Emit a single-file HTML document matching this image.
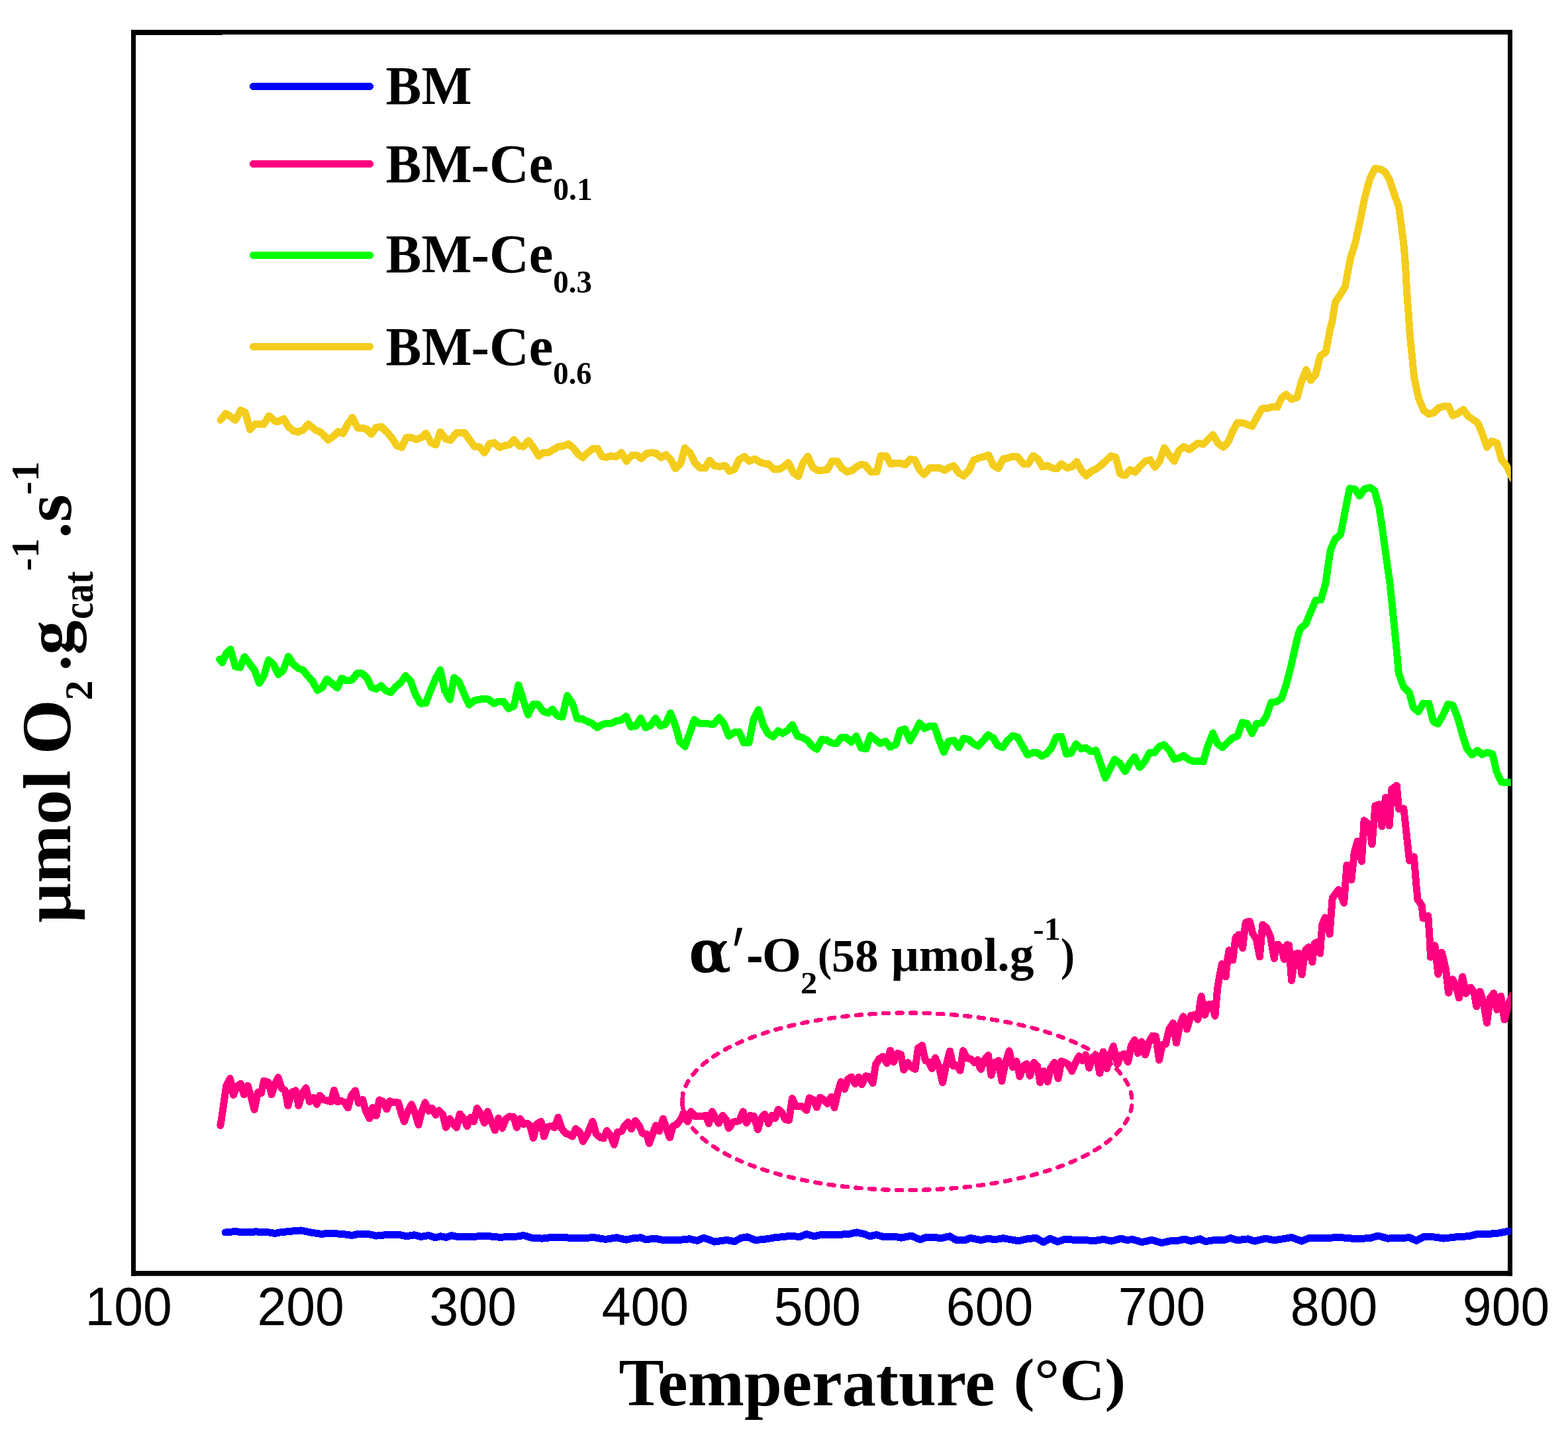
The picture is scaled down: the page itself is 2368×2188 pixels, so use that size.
<!DOCTYPE html>
<html lang="en"><head><meta charset="utf-8"><title>O2-TPD profiles</title>
<style>
html,body{margin:0;padding:0;background:#fff;}
body{width:2368px;height:2188px;overflow:hidden;}
svg{display:block;}
text{white-space:pre;}
.c{fill:none;stroke-linejoin:round;stroke-linecap:round;shape-rendering:crispEdges;}
.k{shape-rendering:crispEdges;}
</style></head><body>
<svg width="2368" height="2188" viewBox="0 0 2368 2188">
<defs><clipPath id="plot"><rect x="201.5" y="48" width="2080" height="1875"/></clipPath></defs>
<rect width="2368" height="2188" fill="#fff"/>

<g fill="#000">
<rect x="198" y="45" width="2086" height="7.2"/>
<rect x="198" y="45" width="138" height="8"/>
<rect x="198" y="1919" width="2086" height="7.7"/>
<rect x="198" y="45" width="7" height="1881.7"/>
<rect x="2277" y="45" width="7" height="1881.7"/>
</g>
<g clip-path="url(#plot)"><g transform="translate(0.5 0.5)">
<path class="c" stroke="#0000ff" stroke-width="11" d="M339.8 1860.4 L354.7 1859.0 L366.2 1860.4 L386.0 1859.4 L405.8 1860.4 L414.1 1862.0 L422.3 1860.4 L435.5 1859.0 L453.7 1857.4 L468.5 1860.4 L485.0 1863.0 L494.9 1861.7 L518.0 1863.0 L531.2 1865.0 L539.5 1863.0 L556.0 1863.0 L567.5 1865.6 L584.0 1864.0 L603.8 1864.3 L613.7 1866.3 L625.3 1864.3 L635.2 1867.0 L646.7 1865.0 L656.6 1868.3 L664.9 1866.3 L673.1 1868.0 L681.4 1865.3 L691.3 1867.0 L716.0 1866.6 L735.8 1866.0 L752.3 1867.6 L775.4 1867.3 L790.3 1865.0 L803.5 1868.9 L818.3 1869.6 L829.9 1868.3 L848.0 1868.3 L874.4 1868.9 L897.5 1868.3 L914.0 1870.9 L930.5 1868.3 L945.4 1871.6 L953.6 1869.6 L966.8 1868.3 L975.1 1871.3 L988.1 1869.6 L999.6 1871.9 L1026.0 1871.9 L1040.9 1870.3 L1052.4 1872.9 L1062.3 1868.6 L1078.8 1874.6 L1097.0 1871.9 L1108.5 1874.2 L1118.4 1868.9 L1128.3 1867.3 L1139.9 1872.2 L1158.0 1870.3 L1171.2 1868.0 L1184.4 1867.0 L1191.0 1865.6 L1207.5 1867.0 L1217.4 1863.0 L1229.0 1866.3 L1240.5 1863.7 L1257.0 1864.3 L1281.8 1863.0 L1293.3 1860.4 L1304.9 1863.0 L1313.1 1866.3 L1323.0 1864.0 L1332.9 1867.0 L1352.7 1867.0 L1361.0 1868.6 L1375.8 1865.6 L1389.0 1871.3 L1398.9 1867.6 L1422.0 1868.9 L1433.6 1866.3 L1443.5 1871.9 L1458.3 1871.6 L1464.9 1868.9 L1481.4 1872.2 L1491.3 1869.6 L1501.2 1871.3 L1514.4 1869.3 L1537.5 1873.2 L1550.7 1870.3 L1563.9 1868.9 L1575.5 1875.2 L1585.4 1869.6 L1596.9 1874.6 L1606.8 1870.9 L1620.0 1871.6 L1653.2 1872.9 L1666.4 1870.9 L1678.0 1873.6 L1692.8 1869.6 L1701.1 1872.2 L1709.3 1870.9 L1724.2 1875.2 L1739.0 1871.9 L1753.9 1876.2 L1768.7 1872.9 L1778.6 1872.9 L1788.5 1870.6 L1798.4 1873.6 L1811.6 1870.3 L1819.9 1874.2 L1831.4 1872.2 L1847.9 1872.2 L1857.8 1868.9 L1867.7 1872.2 L1884.2 1870.3 L1894.1 1873.6 L1910.6 1869.6 L1923.8 1872.2 L1937.0 1870.3 L1950.2 1868.0 L1965.1 1873.6 L1976.6 1868.9 L2003.0 1868.9 L2022.8 1868.0 L2049.2 1870.3 L2069.0 1868.9 L2080.6 1865.6 L2095.4 1869.6 L2128.4 1868.3 L2138.3 1872.9 L2149.9 1867.0 L2168.0 1867.6 L2179.6 1869.6 L2201.0 1867.0 L2217.5 1866.3 L2230.7 1863.0 L2247.2 1863.0 L2263.7 1861.4 L2275.3 1859.0 L2286.8 1859.7"/>
<path class="c" style="shape-rendering:auto" stroke="#0000ff" stroke-width="9.4" d="M339.8 1860.4 L354.7 1859.0 L366.2 1860.4 L386.0 1859.4 L405.8 1860.4 L414.1 1862.0 L422.3 1860.4 L435.5 1859.0 L453.7 1857.4 L468.5 1860.4 L485.0 1863.0 L494.9 1861.7 L518.0 1863.0 L531.2 1865.0 L539.5 1863.0 L556.0 1863.0 L567.5 1865.6 L584.0 1864.0 L603.8 1864.3 L613.7 1866.3 L625.3 1864.3 L635.2 1867.0 L646.7 1865.0 L656.6 1868.3 L664.9 1866.3 L673.1 1868.0 L681.4 1865.3 L691.3 1867.0 L716.0 1866.6 L735.8 1866.0 L752.3 1867.6 L775.4 1867.3 L790.3 1865.0 L803.5 1868.9 L818.3 1869.6 L829.9 1868.3 L848.0 1868.3 L874.4 1868.9 L897.5 1868.3 L914.0 1870.9 L930.5 1868.3 L945.4 1871.6 L953.6 1869.6 L966.8 1868.3 L975.1 1871.3 L988.1 1869.6 L999.6 1871.9 L1026.0 1871.9 L1040.9 1870.3 L1052.4 1872.9 L1062.3 1868.6 L1078.8 1874.6 L1097.0 1871.9 L1108.5 1874.2 L1118.4 1868.9 L1128.3 1867.3 L1139.9 1872.2 L1158.0 1870.3 L1171.2 1868.0 L1184.4 1867.0 L1191.0 1865.6 L1207.5 1867.0 L1217.4 1863.0 L1229.0 1866.3 L1240.5 1863.7 L1257.0 1864.3 L1281.8 1863.0 L1293.3 1860.4 L1304.9 1863.0 L1313.1 1866.3 L1323.0 1864.0 L1332.9 1867.0 L1352.7 1867.0 L1361.0 1868.6 L1375.8 1865.6 L1389.0 1871.3 L1398.9 1867.6 L1422.0 1868.9 L1433.6 1866.3 L1443.5 1871.9 L1458.3 1871.6 L1464.9 1868.9 L1481.4 1872.2 L1491.3 1869.6 L1501.2 1871.3 L1514.4 1869.3 L1537.5 1873.2 L1550.7 1870.3 L1563.9 1868.9 L1575.5 1875.2 L1585.4 1869.6 L1596.9 1874.6 L1606.8 1870.9 L1620.0 1871.6 L1653.2 1872.9 L1666.4 1870.9 L1678.0 1873.6 L1692.8 1869.6 L1701.1 1872.2 L1709.3 1870.9 L1724.2 1875.2 L1739.0 1871.9 L1753.9 1876.2 L1768.7 1872.9 L1778.6 1872.9 L1788.5 1870.6 L1798.4 1873.6 L1811.6 1870.3 L1819.9 1874.2 L1831.4 1872.2 L1847.9 1872.2 L1857.8 1868.9 L1867.7 1872.2 L1884.2 1870.3 L1894.1 1873.6 L1910.6 1869.6 L1923.8 1872.2 L1937.0 1870.3 L1950.2 1868.0 L1965.1 1873.6 L1976.6 1868.9 L2003.0 1868.9 L2022.8 1868.0 L2049.2 1870.3 L2069.0 1868.9 L2080.6 1865.6 L2095.4 1869.6 L2128.4 1868.3 L2138.3 1872.9 L2149.9 1867.0 L2168.0 1867.6 L2179.6 1869.6 L2201.0 1867.0 L2217.5 1866.3 L2230.7 1863.0 L2247.2 1863.0 L2263.7 1861.4 L2275.3 1859.0 L2286.8 1859.7"/>
<path class="c" stroke="#ff0080" stroke-width="11" d="M332.4 1699.0 L336.0 1676.0 L341.0 1640.0 L347.0 1628.0 L352.0 1653.0 L357.0 1640.0 L363.0 1636.0 L368.0 1652.4 L373.6 1639.0 L378.4 1654.0 L383.6 1675.0 L389.0 1649.0 L394.0 1650.4 L398.0 1631.6 L405.0 1634.0 L409.6 1652.4 L415.0 1636.0 L419.6 1626.4 L425.0 1643.0 L430.0 1646.0 L434.4 1669.0 L440.0 1649.0 L446.0 1646.4 L450.4 1669.0 L456.0 1650.0 L461.6 1642.4 L467.0 1663.0 L472.4 1657.0 L478.0 1667.0 L482.4 1653.6 L488.0 1660.0 L494.0 1661.6 L499.6 1663.0 L504.0 1645.6 L509.6 1663.0 L515.0 1662.0 L520.0 1664.0 L525.0 1672.4 L530.0 1654.0 L536.0 1646.4 L541.0 1665.0 L547.0 1659.6 L552.0 1677.0 L557.6 1688.4 L562.4 1672.0 L567.6 1684.4 L572.4 1660.4 L578.0 1663.0 L583.6 1674.4 L588.0 1662.4 L595.0 1664.4 L601.0 1664.4 L606.0 1682.0 L610.0 1693.0 L615.6 1677.0 L621.0 1667.4 L626.4 1680.0 L631.6 1698.0 L637.0 1676.0 L641.6 1664.4 L647.0 1677.0 L652.0 1673.0 L657.6 1683.0 L662.4 1676.4 L668.0 1682.0 L673.0 1702.0 L679.0 1689.0 L684.0 1697.0 L689.0 1702.0 L694.0 1681.6 L700.0 1689.0 L705.0 1700.0 L710.0 1687.0 L715.0 1693.0 L720.0 1673.0 L726.0 1682.0 L731.0 1695.0 L736.0 1678.0 L742.0 1694.0 L747.0 1706.4 L752.4 1688.0 L758.0 1703.0 L763.6 1689.0 L769.0 1685.4 L775.0 1686.0 L780.0 1702.0 L785.0 1689.0 L790.0 1697.0 L795.6 1695.6 L800.0 1699.0 L805.0 1718.0 L810.0 1697.0 L816.4 1693.0 L821.0 1715.6 L826.0 1701.0 L832.0 1700.0 L837.0 1702.0 L842.4 1686.6 L848.0 1704.0 L854.0 1711.0 L859.6 1713.0 L864.0 1715.6 L869.0 1704.0 L875.0 1709.0 L880.0 1723.0 L887.0 1711.0 L894.4 1693.0 L900.0 1712.0 L906.0 1717.0 L911.0 1718.4 L916.0 1707.0 L922.0 1715.0 L927.0 1728.0 L932.0 1709.0 L938.0 1708.0 L943.0 1699.0 L948.0 1694.0 L953.0 1704.4 L959.0 1691.6 L965.0 1700.0 L970.0 1711.0 L976.0 1712.0 L980.0 1726.0 L985.0 1712.0 L990.0 1699.0 L995.0 1707.6 L1001.0 1688.6 L1006.0 1704.0 L1011.0 1717.4 L1016.0 1700.0 L1022.0 1697.0 L1028.0 1689.0 L1032.0 1680.0 L1038.0 1693.0 L1043.0 1678.0 L1049.0 1685.0 L1060.0 1685.0 L1065.0 1683.6 L1070.0 1696.0 L1075.0 1678.0 L1080.0 1688.0 L1085.0 1695.6 L1091.0 1684.0 L1096.0 1690.0 L1100.0 1703.0 L1101.0 1702.4 L1106.0 1694.0 L1111.0 1693.0 L1116.0 1692.0 L1121.6 1678.0 L1127.0 1695.0 L1132.4 1684.0 L1138.0 1685.0 L1144.0 1705.0 L1149.0 1688.0 L1154.4 1682.0 L1160.0 1696.0 L1165.0 1684.0 L1170.0 1688.0 L1175.0 1674.6 L1180.0 1679.0 L1185.6 1690.0 L1191.0 1691.0 L1196.0 1658.0 L1201.0 1670.0 L1212.0 1670.4 L1217.6 1676.0 L1221.6 1657.4 L1227.6 1660.0 L1233.0 1671.6 L1238.0 1656.6 L1243.6 1660.0 L1249.0 1666.0 L1255.0 1655.6 L1259.6 1672.0 L1265.0 1648.0 L1269.6 1633.0 L1275.0 1644.0 L1280.0 1629.0 L1285.6 1625.6 L1291.0 1636.0 L1296.4 1626.0 L1301.0 1637.0 L1307.0 1624.4 L1312.0 1625.0 L1317.6 1635.0 L1322.0 1607.0 L1327.6 1598.0 L1333.0 1595.0 L1339.0 1605.0 L1344.0 1585.6 L1349.0 1603.0 L1355.0 1590.0 L1360.0 1591.6 L1364.4 1615.0 L1370.4 1604.0 L1376.0 1611.0 L1381.6 1614.0 L1386.0 1582.0 L1392.0 1578.0 L1397.0 1601.0 L1402.0 1603.0 L1407.0 1613.0 L1412.0 1597.0 L1417.6 1610.0 L1423.0 1634.0 L1428.4 1608.0 L1434.0 1586.6 L1439.0 1609.0 L1444.0 1608.0 L1449.6 1616.0 L1454.0 1586.0 L1460.0 1597.0 L1466.0 1599.0 L1471.0 1604.0 L1476.0 1600.0 L1480.0 1613.0 L1481.0 1614.0 L1486.0 1600.0 L1492.0 1593.0 L1496.4 1623.0 L1502.0 1604.0 L1507.6 1601.0 L1512.4 1632.0 L1518.0 1604.0 L1523.6 1586.4 L1529.0 1611.0 L1534.4 1602.0 L1539.6 1625.0 L1545.0 1609.0 L1550.0 1606.0 L1555.0 1624.0 L1561.0 1604.0 L1566.0 1609.0 L1570.4 1634.0 L1576.0 1617.0 L1581.6 1633.0 L1586.4 1612.0 L1592.0 1604.0 L1597.6 1628.0 L1602.4 1602.0 L1608.0 1604.0 L1613.0 1607.0 L1618.4 1617.0 L1624.0 1604.0 L1629.0 1594.4 L1634.0 1601.0 L1639.0 1592.4 L1644.4 1612.0 L1650.0 1595.6 L1655.0 1594.0 L1660.4 1620.0 L1665.6 1587.6 L1671.0 1613.0 L1676.0 1593.0 L1681.0 1579.4 L1687.0 1606.4 L1692.0 1593.0 L1697.0 1591.0 L1703.0 1603.0 L1708.0 1578.0 L1713.0 1570.0 L1718.0 1590.0 L1723.6 1572.4 L1729.0 1592.4 L1734.4 1574.0 L1740.0 1563.6 L1745.0 1564.4 L1750.0 1600.0 L1755.0 1577.0 L1760.0 1576.0 L1765.0 1554.0 L1771.0 1544.4 L1776.0 1574.4 L1781.6 1547.0 L1786.4 1534.4 L1792.0 1553.6 L1798.0 1533.0 L1804.0 1532.0 L1808.4 1539.0 L1813.6 1504.0 L1819.0 1532.0 L1824.0 1516.4 L1829.6 1516.0 L1834.4 1533.6 L1838.1 1492.5 L1841.9 1470.0 L1845.0 1455.0 L1850.6 1474.4 L1853.1 1450.0 L1855.6 1434.4 L1861.2 1449.4 L1863.8 1428.8 L1865.6 1415.0 L1870.6 1410.6 L1876.2 1431.2 L1880.0 1396.2 L1881.2 1391.9 L1886.9 1390.6 L1891.2 1408.8 L1896.9 1417.5 L1901.9 1444.4 L1906.2 1395.6 L1911.9 1400.0 L1918.1 1413.8 L1923.8 1446.9 L1926.9 1426.2 L1930.0 1425.6 L1935.0 1432.5 L1938.8 1448.1 L1943.1 1426.2 L1946.2 1426.9 L1950.0 1480.0 L1955.6 1440.0 L1960.6 1438.8 L1965.6 1471.2 L1970.6 1435.0 L1976.2 1429.4 L1981.2 1452.5 L1985.0 1423.8 L1988.8 1421.9 L1993.1 1439.4 L1996.2 1396.2 L2000.6 1385.0 L2007.5 1410.0 L2011.7 1355.4 L2021.1 1343.0 L2029.2 1362.9 L2033.5 1305.6 L2040.4 1328.0 L2044.7 1287.0 L2049.7 1269.6 L2055.9 1300.0 L2059.6 1238.4 L2067.1 1244.7 L2071.5 1274.5 L2076.4 1216.0 L2082.0 1214.2 L2086.4 1247.2 L2092.0 1203.6 L2097.6 1246.5 L2101.3 1191.2 L2108.8 1185.6 L2111.9 1221.0 L2119.4 1220.4 L2128.1 1299.4 L2134.9 1293.2 L2138.0 1331.8 L2140.5 1357.9 L2146.7 1366.6 L2148.7 1386.2 L2156.3 1382.4 L2158.4 1413.3 L2160.0 1444.7 L2166.5 1427.4 L2171.4 1470.6 L2176.8 1437.6 L2182.8 1462.0 L2187.1 1498.8 L2193.1 1478.2 L2197.9 1486.9 L2202.8 1506.4 L2208.2 1474.4 L2213.1 1499.9 L2220.6 1490.7 L2225.5 1497.7 L2229.3 1519.4 L2234.7 1496.6 L2240.1 1513.9 L2245.0 1544.2 L2249.9 1506.4 L2255.3 1499.3 L2260.2 1524.2 L2266.1 1503.7 L2271.5 1539.4 L2278.0 1513.9 L2284.5 1501.0"/>
<path class="c" style="shape-rendering:auto" stroke="#ff0080" stroke-width="9.4" d="M332.4 1699.0 L336.0 1676.0 L341.0 1640.0 L347.0 1628.0 L352.0 1653.0 L357.0 1640.0 L363.0 1636.0 L368.0 1652.4 L373.6 1639.0 L378.4 1654.0 L383.6 1675.0 L389.0 1649.0 L394.0 1650.4 L398.0 1631.6 L405.0 1634.0 L409.6 1652.4 L415.0 1636.0 L419.6 1626.4 L425.0 1643.0 L430.0 1646.0 L434.4 1669.0 L440.0 1649.0 L446.0 1646.4 L450.4 1669.0 L456.0 1650.0 L461.6 1642.4 L467.0 1663.0 L472.4 1657.0 L478.0 1667.0 L482.4 1653.6 L488.0 1660.0 L494.0 1661.6 L499.6 1663.0 L504.0 1645.6 L509.6 1663.0 L515.0 1662.0 L520.0 1664.0 L525.0 1672.4 L530.0 1654.0 L536.0 1646.4 L541.0 1665.0 L547.0 1659.6 L552.0 1677.0 L557.6 1688.4 L562.4 1672.0 L567.6 1684.4 L572.4 1660.4 L578.0 1663.0 L583.6 1674.4 L588.0 1662.4 L595.0 1664.4 L601.0 1664.4 L606.0 1682.0 L610.0 1693.0 L615.6 1677.0 L621.0 1667.4 L626.4 1680.0 L631.6 1698.0 L637.0 1676.0 L641.6 1664.4 L647.0 1677.0 L652.0 1673.0 L657.6 1683.0 L662.4 1676.4 L668.0 1682.0 L673.0 1702.0 L679.0 1689.0 L684.0 1697.0 L689.0 1702.0 L694.0 1681.6 L700.0 1689.0 L705.0 1700.0 L710.0 1687.0 L715.0 1693.0 L720.0 1673.0 L726.0 1682.0 L731.0 1695.0 L736.0 1678.0 L742.0 1694.0 L747.0 1706.4 L752.4 1688.0 L758.0 1703.0 L763.6 1689.0 L769.0 1685.4 L775.0 1686.0 L780.0 1702.0 L785.0 1689.0 L790.0 1697.0 L795.6 1695.6 L800.0 1699.0 L805.0 1718.0 L810.0 1697.0 L816.4 1693.0 L821.0 1715.6 L826.0 1701.0 L832.0 1700.0 L837.0 1702.0 L842.4 1686.6 L848.0 1704.0 L854.0 1711.0 L859.6 1713.0 L864.0 1715.6 L869.0 1704.0 L875.0 1709.0 L880.0 1723.0 L887.0 1711.0 L894.4 1693.0 L900.0 1712.0 L906.0 1717.0 L911.0 1718.4 L916.0 1707.0 L922.0 1715.0 L927.0 1728.0 L932.0 1709.0 L938.0 1708.0 L943.0 1699.0 L948.0 1694.0 L953.0 1704.4 L959.0 1691.6 L965.0 1700.0 L970.0 1711.0 L976.0 1712.0 L980.0 1726.0 L985.0 1712.0 L990.0 1699.0 L995.0 1707.6 L1001.0 1688.6 L1006.0 1704.0 L1011.0 1717.4 L1016.0 1700.0 L1022.0 1697.0 L1028.0 1689.0 L1032.0 1680.0 L1038.0 1693.0 L1043.0 1678.0 L1049.0 1685.0 L1060.0 1685.0 L1065.0 1683.6 L1070.0 1696.0 L1075.0 1678.0 L1080.0 1688.0 L1085.0 1695.6 L1091.0 1684.0 L1096.0 1690.0 L1100.0 1703.0 L1101.0 1702.4 L1106.0 1694.0 L1111.0 1693.0 L1116.0 1692.0 L1121.6 1678.0 L1127.0 1695.0 L1132.4 1684.0 L1138.0 1685.0 L1144.0 1705.0 L1149.0 1688.0 L1154.4 1682.0 L1160.0 1696.0 L1165.0 1684.0 L1170.0 1688.0 L1175.0 1674.6 L1180.0 1679.0 L1185.6 1690.0 L1191.0 1691.0 L1196.0 1658.0 L1201.0 1670.0 L1212.0 1670.4 L1217.6 1676.0 L1221.6 1657.4 L1227.6 1660.0 L1233.0 1671.6 L1238.0 1656.6 L1243.6 1660.0 L1249.0 1666.0 L1255.0 1655.6 L1259.6 1672.0 L1265.0 1648.0 L1269.6 1633.0 L1275.0 1644.0 L1280.0 1629.0 L1285.6 1625.6 L1291.0 1636.0 L1296.4 1626.0 L1301.0 1637.0 L1307.0 1624.4 L1312.0 1625.0 L1317.6 1635.0 L1322.0 1607.0 L1327.6 1598.0 L1333.0 1595.0 L1339.0 1605.0 L1344.0 1585.6 L1349.0 1603.0 L1355.0 1590.0 L1360.0 1591.6 L1364.4 1615.0 L1370.4 1604.0 L1376.0 1611.0 L1381.6 1614.0 L1386.0 1582.0 L1392.0 1578.0 L1397.0 1601.0 L1402.0 1603.0 L1407.0 1613.0 L1412.0 1597.0 L1417.6 1610.0 L1423.0 1634.0 L1428.4 1608.0 L1434.0 1586.6 L1439.0 1609.0 L1444.0 1608.0 L1449.6 1616.0 L1454.0 1586.0 L1460.0 1597.0 L1466.0 1599.0 L1471.0 1604.0 L1476.0 1600.0 L1480.0 1613.0 L1481.0 1614.0 L1486.0 1600.0 L1492.0 1593.0 L1496.4 1623.0 L1502.0 1604.0 L1507.6 1601.0 L1512.4 1632.0 L1518.0 1604.0 L1523.6 1586.4 L1529.0 1611.0 L1534.4 1602.0 L1539.6 1625.0 L1545.0 1609.0 L1550.0 1606.0 L1555.0 1624.0 L1561.0 1604.0 L1566.0 1609.0 L1570.4 1634.0 L1576.0 1617.0 L1581.6 1633.0 L1586.4 1612.0 L1592.0 1604.0 L1597.6 1628.0 L1602.4 1602.0 L1608.0 1604.0 L1613.0 1607.0 L1618.4 1617.0 L1624.0 1604.0 L1629.0 1594.4 L1634.0 1601.0 L1639.0 1592.4 L1644.4 1612.0 L1650.0 1595.6 L1655.0 1594.0 L1660.4 1620.0 L1665.6 1587.6 L1671.0 1613.0 L1676.0 1593.0 L1681.0 1579.4 L1687.0 1606.4 L1692.0 1593.0 L1697.0 1591.0 L1703.0 1603.0 L1708.0 1578.0 L1713.0 1570.0 L1718.0 1590.0 L1723.6 1572.4 L1729.0 1592.4 L1734.4 1574.0 L1740.0 1563.6 L1745.0 1564.4 L1750.0 1600.0 L1755.0 1577.0 L1760.0 1576.0 L1765.0 1554.0 L1771.0 1544.4 L1776.0 1574.4 L1781.6 1547.0 L1786.4 1534.4 L1792.0 1553.6 L1798.0 1533.0 L1804.0 1532.0 L1808.4 1539.0 L1813.6 1504.0 L1819.0 1532.0 L1824.0 1516.4 L1829.6 1516.0 L1834.4 1533.6 L1838.1 1492.5 L1841.9 1470.0 L1845.0 1455.0 L1850.6 1474.4 L1853.1 1450.0 L1855.6 1434.4 L1861.2 1449.4 L1863.8 1428.8 L1865.6 1415.0 L1870.6 1410.6 L1876.2 1431.2 L1880.0 1396.2 L1881.2 1391.9 L1886.9 1390.6 L1891.2 1408.8 L1896.9 1417.5 L1901.9 1444.4 L1906.2 1395.6 L1911.9 1400.0 L1918.1 1413.8 L1923.8 1446.9 L1926.9 1426.2 L1930.0 1425.6 L1935.0 1432.5 L1938.8 1448.1 L1943.1 1426.2 L1946.2 1426.9 L1950.0 1480.0 L1955.6 1440.0 L1960.6 1438.8 L1965.6 1471.2 L1970.6 1435.0 L1976.2 1429.4 L1981.2 1452.5 L1985.0 1423.8 L1988.8 1421.9 L1993.1 1439.4 L1996.2 1396.2 L2000.6 1385.0 L2007.5 1410.0 L2011.7 1355.4 L2021.1 1343.0 L2029.2 1362.9 L2033.5 1305.6 L2040.4 1328.0 L2044.7 1287.0 L2049.7 1269.6 L2055.9 1300.0 L2059.6 1238.4 L2067.1 1244.7 L2071.5 1274.5 L2076.4 1216.0 L2082.0 1214.2 L2086.4 1247.2 L2092.0 1203.6 L2097.6 1246.5 L2101.3 1191.2 L2108.8 1185.6 L2111.9 1221.0 L2119.4 1220.4 L2128.1 1299.4 L2134.9 1293.2 L2138.0 1331.8 L2140.5 1357.9 L2146.7 1366.6 L2148.7 1386.2 L2156.3 1382.4 L2158.4 1413.3 L2160.0 1444.7 L2166.5 1427.4 L2171.4 1470.6 L2176.8 1437.6 L2182.8 1462.0 L2187.1 1498.8 L2193.1 1478.2 L2197.9 1486.9 L2202.8 1506.4 L2208.2 1474.4 L2213.1 1499.9 L2220.6 1490.7 L2225.5 1497.7 L2229.3 1519.4 L2234.7 1496.6 L2240.1 1513.9 L2245.0 1544.2 L2249.9 1506.4 L2255.3 1499.3 L2260.2 1524.2 L2266.1 1503.7 L2271.5 1539.4 L2278.0 1513.9 L2284.5 1501.0"/>
<path class="c" stroke="#00ff00" stroke-width="11" d="M331.2 995.0 L335.0 1000.0 L341.2 986.2 L347.5 980.0 L355.0 1006.2 L362.0 1007.5 L368.8 991.2 L376.2 1001.2 L383.8 1011.2 L391.2 1031.2 L398.0 1020.0 L405.0 996.2 L412.5 1002.5 L420.0 1018.2 L427.5 1010.8 L435.0 990.8 L442.5 1002.5 L450.0 1008.8 L457.0 1011.2 L465.0 1021.2 L471.2 1027.5 L478.8 1042.0 L486.2 1037.5 L493.2 1025.0 L501.2 1031.8 L508.8 1038.2 L515.5 1023.8 L523.0 1027.5 L531.2 1026.2 L538.8 1016.2 L546.2 1016.2 L553.8 1023.2 L560.5 1037.5 L567.5 1040.0 L575.0 1035.0 L582.5 1042.5 L589.5 1045.0 L597.5 1036.2 L605.0 1030.0 L612.0 1020.0 L619.5 1027.5 L627.0 1048.2 L634.5 1061.8 L642.5 1061.2 L649.5 1042.5 L657.0 1025.0 L664.5 1011.2 L671.2 1042.5 L678.8 1055.8 L685.5 1022.5 L693.0 1029.5 L700.5 1047.5 L708.0 1063.8 L715.5 1057.5 L722.5 1055.8 L730.0 1055.0 L737.5 1055.5 L745.0 1061.8 L752.5 1058.8 L760.0 1058.8 L767.5 1069.5 L775.5 1065.8 L782.5 1033.8 L790.0 1057.5 L797.0 1078.8 L804.5 1063.2 L812.0 1063.2 L820.0 1073.8 L827.5 1076.2 L833.8 1070.5 L841.2 1080.5 L848.8 1082.0 L856.2 1050.0 L863.8 1061.2 L871.2 1084.5 L878.8 1085.0 L886.2 1088.8 L893.8 1091.8 L901.2 1098.2 L908.8 1093.8 L915.5 1091.8 L923.0 1091.8 L930.0 1088.2 L937.5 1086.8 L945.0 1081.2 L952.5 1097.0 L960.0 1095.8 L967.0 1083.8 L974.5 1098.2 L982.0 1095.0 L989.5 1084.2 L997.0 1095.8 L1004.5 1093.0 L1012.0 1076.2 L1019.5 1095.0 L1026.2 1119.5 L1033.8 1126.8 L1041.2 1106.2 L1048.0 1086.2 L1055.0 1091.8 L1062.5 1091.8 L1070.0 1092.5 L1077.5 1093.0 L1085.5 1083.2 L1093.0 1092.5 L1100.0 1110.8 L1108.0 1105.5 L1115.5 1104.5 L1123.0 1121.2 L1130.5 1120.8 L1137.5 1086.2 L1145.0 1071.2 L1152.5 1095.0 L1159.5 1107.5 L1167.0 1111.8 L1174.5 1103.2 L1181.2 1107.0 L1188.8 1102.5 L1196.2 1093.8 L1203.8 1111.2 L1211.2 1113.0 L1218.8 1117.5 L1226.2 1126.2 L1233.0 1130.8 L1240.5 1116.2 L1247.5 1116.8 L1255.0 1121.2 L1262.5 1122.5 L1270.0 1113.2 L1277.5 1113.2 L1285.0 1120.0 L1292.5 1111.2 L1300.0 1128.8 L1307.5 1130.5 L1313.8 1110.0 L1321.2 1116.2 L1328.8 1122.0 L1337.0 1118.8 L1343.8 1127.5 L1352.5 1123.8 L1358.8 1102.5 L1366.2 1100.5 L1373.8 1118.0 L1381.2 1105.0 L1388.2 1091.2 L1395.5 1099.5 L1403.0 1096.2 L1410.5 1096.2 L1417.5 1116.2 L1425.0 1135.5 L1432.0 1118.8 L1440.0 1117.5 L1447.5 1128.2 L1454.5 1114.5 L1462.0 1115.8 L1469.5 1122.5 L1477.0 1126.2 L1484.5 1117.5 L1492.0 1109.2 L1499.5 1113.8 L1506.2 1125.0 L1513.8 1128.2 L1521.2 1117.5 L1528.8 1110.5 L1536.2 1112.5 L1543.8 1126.2 L1551.2 1139.2 L1558.8 1136.2 L1566.2 1136.2 L1573.0 1141.2 L1580.0 1137.5 L1587.5 1128.8 L1594.5 1112.5 L1602.5 1111.8 L1610.0 1138.0 L1617.0 1136.8 L1624.5 1123.2 L1632.0 1130.0 L1639.5 1128.8 L1647.0 1134.2 L1654.5 1132.5 L1661.2 1151.2 L1668.8 1174.5 L1676.2 1159.5 L1683.0 1146.2 L1690.5 1151.8 L1698.8 1164.5 L1706.2 1151.2 L1713.0 1142.5 L1720.5 1158.2 L1728.0 1150.0 L1735.5 1136.2 L1743.0 1136.2 L1750.0 1126.8 L1757.5 1124.2 L1765.5 1132.5 L1772.9 1145.8 L1779.7 1144.2 L1787.0 1140.5 L1794.8 1146.5 L1801.7 1149.1 L1809.2 1148.5 L1816.8 1149.5 L1822.9 1127.6 L1831.2 1106.4 L1838.0 1122.3 L1845.6 1128.3 L1853.2 1120.8 L1860.8 1113.9 L1868.3 1110.9 L1875.5 1090.5 L1882.7 1092.0 L1890.3 1107.1 L1897.1 1092.0 L1905.5 1091.2 L1912.3 1080.6 L1919.1 1060.2 L1926.7 1059.4 L1935.0 1054.1 L1941.8 1033.6 L1948.6 1007.9 L1954.7 980.6 L1960.0 957.9 L1963.8 948.0 L1971.4 942.0 L1979.2 922.8 L1986.4 906.0 L1994.4 905.2 L2001.6 879.6 L2005.6 850.8 L2008.8 830.0 L2016.0 813.2 L2024.0 806.8 L2030.4 774.0 L2037.6 737.2 L2045.6 738.0 L2052.8 748.4 L2060.0 738.0 L2068.0 735.6 L2075.2 740.4 L2082.4 766.0 L2086.4 793.2 L2090.4 822.0 L2094.4 850.8 L2098.4 879.6 L2101.6 910.0 L2104.8 942.0 L2108.0 974.0 L2109.5 990.3 L2111.8 1016.1 L2119.4 1037.3 L2127.7 1044.8 L2133.8 1067.6 L2141.4 1074.4 L2148.9 1061.5 L2157.3 1061.8 L2164.1 1088.8 L2170.9 1092.6 L2178.5 1079.7 L2186.1 1063.0 L2193.6 1064.5 L2201.2 1084.2 L2208.8 1111.5 L2214.8 1129.7 L2222.4 1139.5 L2230.8 1132.7 L2237.6 1138.8 L2245.2 1135.8 L2253.5 1138.0 L2259.5 1164.5 L2267.1 1180.5 L2283.8 1180.9"/>
<path class="c" style="shape-rendering:auto" stroke="#00ff00" stroke-width="9.4" d="M331.2 995.0 L335.0 1000.0 L341.2 986.2 L347.5 980.0 L355.0 1006.2 L362.0 1007.5 L368.8 991.2 L376.2 1001.2 L383.8 1011.2 L391.2 1031.2 L398.0 1020.0 L405.0 996.2 L412.5 1002.5 L420.0 1018.2 L427.5 1010.8 L435.0 990.8 L442.5 1002.5 L450.0 1008.8 L457.0 1011.2 L465.0 1021.2 L471.2 1027.5 L478.8 1042.0 L486.2 1037.5 L493.2 1025.0 L501.2 1031.8 L508.8 1038.2 L515.5 1023.8 L523.0 1027.5 L531.2 1026.2 L538.8 1016.2 L546.2 1016.2 L553.8 1023.2 L560.5 1037.5 L567.5 1040.0 L575.0 1035.0 L582.5 1042.5 L589.5 1045.0 L597.5 1036.2 L605.0 1030.0 L612.0 1020.0 L619.5 1027.5 L627.0 1048.2 L634.5 1061.8 L642.5 1061.2 L649.5 1042.5 L657.0 1025.0 L664.5 1011.2 L671.2 1042.5 L678.8 1055.8 L685.5 1022.5 L693.0 1029.5 L700.5 1047.5 L708.0 1063.8 L715.5 1057.5 L722.5 1055.8 L730.0 1055.0 L737.5 1055.5 L745.0 1061.8 L752.5 1058.8 L760.0 1058.8 L767.5 1069.5 L775.5 1065.8 L782.5 1033.8 L790.0 1057.5 L797.0 1078.8 L804.5 1063.2 L812.0 1063.2 L820.0 1073.8 L827.5 1076.2 L833.8 1070.5 L841.2 1080.5 L848.8 1082.0 L856.2 1050.0 L863.8 1061.2 L871.2 1084.5 L878.8 1085.0 L886.2 1088.8 L893.8 1091.8 L901.2 1098.2 L908.8 1093.8 L915.5 1091.8 L923.0 1091.8 L930.0 1088.2 L937.5 1086.8 L945.0 1081.2 L952.5 1097.0 L960.0 1095.8 L967.0 1083.8 L974.5 1098.2 L982.0 1095.0 L989.5 1084.2 L997.0 1095.8 L1004.5 1093.0 L1012.0 1076.2 L1019.5 1095.0 L1026.2 1119.5 L1033.8 1126.8 L1041.2 1106.2 L1048.0 1086.2 L1055.0 1091.8 L1062.5 1091.8 L1070.0 1092.5 L1077.5 1093.0 L1085.5 1083.2 L1093.0 1092.5 L1100.0 1110.8 L1108.0 1105.5 L1115.5 1104.5 L1123.0 1121.2 L1130.5 1120.8 L1137.5 1086.2 L1145.0 1071.2 L1152.5 1095.0 L1159.5 1107.5 L1167.0 1111.8 L1174.5 1103.2 L1181.2 1107.0 L1188.8 1102.5 L1196.2 1093.8 L1203.8 1111.2 L1211.2 1113.0 L1218.8 1117.5 L1226.2 1126.2 L1233.0 1130.8 L1240.5 1116.2 L1247.5 1116.8 L1255.0 1121.2 L1262.5 1122.5 L1270.0 1113.2 L1277.5 1113.2 L1285.0 1120.0 L1292.5 1111.2 L1300.0 1128.8 L1307.5 1130.5 L1313.8 1110.0 L1321.2 1116.2 L1328.8 1122.0 L1337.0 1118.8 L1343.8 1127.5 L1352.5 1123.8 L1358.8 1102.5 L1366.2 1100.5 L1373.8 1118.0 L1381.2 1105.0 L1388.2 1091.2 L1395.5 1099.5 L1403.0 1096.2 L1410.5 1096.2 L1417.5 1116.2 L1425.0 1135.5 L1432.0 1118.8 L1440.0 1117.5 L1447.5 1128.2 L1454.5 1114.5 L1462.0 1115.8 L1469.5 1122.5 L1477.0 1126.2 L1484.5 1117.5 L1492.0 1109.2 L1499.5 1113.8 L1506.2 1125.0 L1513.8 1128.2 L1521.2 1117.5 L1528.8 1110.5 L1536.2 1112.5 L1543.8 1126.2 L1551.2 1139.2 L1558.8 1136.2 L1566.2 1136.2 L1573.0 1141.2 L1580.0 1137.5 L1587.5 1128.8 L1594.5 1112.5 L1602.5 1111.8 L1610.0 1138.0 L1617.0 1136.8 L1624.5 1123.2 L1632.0 1130.0 L1639.5 1128.8 L1647.0 1134.2 L1654.5 1132.5 L1661.2 1151.2 L1668.8 1174.5 L1676.2 1159.5 L1683.0 1146.2 L1690.5 1151.8 L1698.8 1164.5 L1706.2 1151.2 L1713.0 1142.5 L1720.5 1158.2 L1728.0 1150.0 L1735.5 1136.2 L1743.0 1136.2 L1750.0 1126.8 L1757.5 1124.2 L1765.5 1132.5 L1772.9 1145.8 L1779.7 1144.2 L1787.0 1140.5 L1794.8 1146.5 L1801.7 1149.1 L1809.2 1148.5 L1816.8 1149.5 L1822.9 1127.6 L1831.2 1106.4 L1838.0 1122.3 L1845.6 1128.3 L1853.2 1120.8 L1860.8 1113.9 L1868.3 1110.9 L1875.5 1090.5 L1882.7 1092.0 L1890.3 1107.1 L1897.1 1092.0 L1905.5 1091.2 L1912.3 1080.6 L1919.1 1060.2 L1926.7 1059.4 L1935.0 1054.1 L1941.8 1033.6 L1948.6 1007.9 L1954.7 980.6 L1960.0 957.9 L1963.8 948.0 L1971.4 942.0 L1979.2 922.8 L1986.4 906.0 L1994.4 905.2 L2001.6 879.6 L2005.6 850.8 L2008.8 830.0 L2016.0 813.2 L2024.0 806.8 L2030.4 774.0 L2037.6 737.2 L2045.6 738.0 L2052.8 748.4 L2060.0 738.0 L2068.0 735.6 L2075.2 740.4 L2082.4 766.0 L2086.4 793.2 L2090.4 822.0 L2094.4 850.8 L2098.4 879.6 L2101.6 910.0 L2104.8 942.0 L2108.0 974.0 L2109.5 990.3 L2111.8 1016.1 L2119.4 1037.3 L2127.7 1044.8 L2133.8 1067.6 L2141.4 1074.4 L2148.9 1061.5 L2157.3 1061.8 L2164.1 1088.8 L2170.9 1092.6 L2178.5 1079.7 L2186.1 1063.0 L2193.6 1064.5 L2201.2 1084.2 L2208.8 1111.5 L2214.8 1129.7 L2222.4 1139.5 L2230.8 1132.7 L2237.6 1138.8 L2245.2 1135.8 L2253.5 1138.0 L2259.5 1164.5 L2267.1 1180.5 L2283.8 1180.9"/>
<path class="c" stroke="#f4cd1c" stroke-width="11" d="M332.5 633.8 L340.5 623.8 L355.0 633.8 L363.0 618.8 L370.0 622.5 L377.0 648.0 L385.0 640.0 L398.0 640.0 L405.8 627.5 L415.0 635.5 L421.2 635.5 L428.0 631.8 L435.0 643.8 L442.5 650.0 L449.5 651.8 L457.5 648.8 L465.0 640.0 L476.2 648.8 L485.0 653.0 L495.0 663.8 L503.8 657.5 L510.0 651.2 L517.5 653.8 L523.8 641.2 L531.5 630.0 L539.5 645.5 L546.2 645.5 L553.8 648.0 L560.5 655.0 L567.5 645.0 L575.5 643.8 L585.0 653.2 L592.5 662.5 L598.8 672.5 L606.2 675.0 L613.0 660.5 L620.0 660.0 L628.0 663.0 L636.2 660.0 L643.0 653.8 L650.0 667.5 L657.5 671.2 L664.5 651.8 L673.0 662.5 L680.0 664.2 L688.8 653.0 L701.2 653.0 L708.8 663.8 L716.2 673.8 L723.8 674.5 L731.2 683.0 L738.8 669.5 L746.2 668.2 L753.8 675.0 L761.2 672.5 L768.8 671.2 L775.5 663.8 L783.8 673.0 L790.0 673.8 L797.5 665.0 L805.0 675.0 L813.0 688.0 L820.0 683.0 L827.5 683.0 L842.5 674.2 L850.0 673.0 L858.0 670.0 L865.5 676.2 L872.5 685.0 L879.5 690.5 L887.5 682.5 L895.0 677.0 L902.0 677.0 L908.8 688.8 L915.0 690.0 L922.5 688.2 L930.0 689.2 L938.0 683.0 L945.5 695.8 L953.8 687.0 L961.2 687.0 L968.0 691.8 L976.2 684.2 L983.8 683.0 L990.5 684.2 L998.0 690.5 L1005.5 686.2 L1012.5 693.8 L1019.5 706.8 L1027.5 699.2 L1033.8 675.8 L1042.5 684.2 L1048.8 698.2 L1057.0 706.2 L1064.5 706.2 L1071.2 694.5 L1078.8 703.2 L1087.5 703.8 L1094.5 702.5 L1101.2 711.2 L1108.8 708.0 L1115.5 693.8 L1123.8 688.8 L1131.2 695.8 L1138.8 692.5 L1147.5 697.5 L1153.8 699.5 L1160.0 700.0 L1168.0 708.0 L1176.2 708.0 L1183.8 703.8 L1190.0 698.2 L1197.5 713.0 L1205.0 718.8 L1212.0 698.8 L1219.5 688.8 L1227.0 705.5 L1235.0 710.0 L1242.5 709.5 L1248.8 708.8 L1256.2 695.8 L1263.8 695.8 L1270.5 706.2 L1278.8 712.0 L1286.2 710.0 L1293.8 703.8 L1300.0 700.8 L1306.2 701.8 L1315.0 712.5 L1323.8 711.8 L1329.5 688.0 L1338.0 688.0 L1344.5 700.0 L1352.5 698.8 L1360.0 699.2 L1367.0 701.2 L1373.8 693.0 L1381.2 693.8 L1388.8 710.0 L1395.5 715.8 L1403.8 705.8 L1411.2 705.8 L1418.8 706.2 L1426.2 709.5 L1433.8 705.0 L1440.0 703.0 L1447.5 713.8 L1455.0 718.0 L1462.5 710.0 L1470.0 694.5 L1477.5 691.2 L1485.0 689.2 L1492.5 686.8 L1499.5 702.0 L1507.0 706.8 L1514.5 692.5 L1521.2 691.2 L1528.8 688.8 L1536.2 689.2 L1545.0 700.0 L1552.5 700.0 L1559.5 687.5 L1567.0 692.5 L1573.8 704.5 L1581.2 702.5 L1588.8 706.2 L1595.5 707.5 L1602.5 700.0 L1611.2 706.2 L1618.8 703.8 L1625.5 696.8 L1632.5 709.5 L1640.0 718.0 L1647.5 711.2 L1655.0 707.5 L1662.5 702.0 L1670.0 695.0 L1677.5 688.2 L1684.5 690.0 L1691.2 715.0 L1698.8 717.5 L1706.2 708.8 L1713.8 712.5 L1721.2 703.8 L1728.8 696.2 L1736.2 693.8 L1743.8 705.0 L1750.5 696.2 L1758.0 675.8 L1766.1 687.6 L1772.9 695.9 L1779.7 680.0 L1787.3 673.9 L1795.6 678.5 L1808.5 668.6 L1816.8 670.2 L1831.2 655.8 L1838.8 668.6 L1847.1 674.7 L1854.7 666.4 L1860.8 651.2 L1868.3 637.6 L1877.4 638.3 L1890.3 643.3 L1897.9 629.2 L1905.5 616.4 L1913.0 616.4 L1920.6 613.6 L1928.2 614.5 L1935.0 600.5 L1941.8 595.2 L1950.2 602.4 L1958.5 599.7 L1964.5 577.0 L1972.1 558.0 L1978.9 573.6 L1986.5 564.8 L1993.3 536.8 L2001.7 531.5 L2008.5 495.2 L2011.2 486.0 L2016.0 455.6 L2023.2 445.2 L2030.9 432.4 L2036.0 404.4 L2039.2 388.4 L2046.4 366.0 L2053.6 332.4 L2060.0 300.4 L2068.0 270.0 L2076.0 254.0 L2084.0 254.8 L2091.2 259.1 L2098.1 270.8 L2104.8 291.6 L2112.0 311.6 L2116.0 342.0 L2120.0 374.0 L2122.4 406.0 L2124.0 438.0 L2126.4 470.0 L2128.0 494.0 L2129.2 510.3 L2132.3 540.6 L2135.3 570.9 L2142.1 601.2 L2149.7 619.4 L2157.3 624.7 L2164.1 623.2 L2171.7 615.6 L2179.2 613.3 L2186.8 612.6 L2193.6 627.0 L2201.2 623.9 L2209.5 617.9 L2216.4 627.7 L2223.9 633.0 L2231.5 638.3 L2239.1 657.3 L2245.2 674.7 L2252.7 665.6 L2260.3 668.6 L2267.1 693.6 L2274.7 702.7 L2283.8 722.4"/>
<path class="c" style="shape-rendering:auto" stroke="#f4cd1c" stroke-width="9.4" d="M332.5 633.8 L340.5 623.8 L355.0 633.8 L363.0 618.8 L370.0 622.5 L377.0 648.0 L385.0 640.0 L398.0 640.0 L405.8 627.5 L415.0 635.5 L421.2 635.5 L428.0 631.8 L435.0 643.8 L442.5 650.0 L449.5 651.8 L457.5 648.8 L465.0 640.0 L476.2 648.8 L485.0 653.0 L495.0 663.8 L503.8 657.5 L510.0 651.2 L517.5 653.8 L523.8 641.2 L531.5 630.0 L539.5 645.5 L546.2 645.5 L553.8 648.0 L560.5 655.0 L567.5 645.0 L575.5 643.8 L585.0 653.2 L592.5 662.5 L598.8 672.5 L606.2 675.0 L613.0 660.5 L620.0 660.0 L628.0 663.0 L636.2 660.0 L643.0 653.8 L650.0 667.5 L657.5 671.2 L664.5 651.8 L673.0 662.5 L680.0 664.2 L688.8 653.0 L701.2 653.0 L708.8 663.8 L716.2 673.8 L723.8 674.5 L731.2 683.0 L738.8 669.5 L746.2 668.2 L753.8 675.0 L761.2 672.5 L768.8 671.2 L775.5 663.8 L783.8 673.0 L790.0 673.8 L797.5 665.0 L805.0 675.0 L813.0 688.0 L820.0 683.0 L827.5 683.0 L842.5 674.2 L850.0 673.0 L858.0 670.0 L865.5 676.2 L872.5 685.0 L879.5 690.5 L887.5 682.5 L895.0 677.0 L902.0 677.0 L908.8 688.8 L915.0 690.0 L922.5 688.2 L930.0 689.2 L938.0 683.0 L945.5 695.8 L953.8 687.0 L961.2 687.0 L968.0 691.8 L976.2 684.2 L983.8 683.0 L990.5 684.2 L998.0 690.5 L1005.5 686.2 L1012.5 693.8 L1019.5 706.8 L1027.5 699.2 L1033.8 675.8 L1042.5 684.2 L1048.8 698.2 L1057.0 706.2 L1064.5 706.2 L1071.2 694.5 L1078.8 703.2 L1087.5 703.8 L1094.5 702.5 L1101.2 711.2 L1108.8 708.0 L1115.5 693.8 L1123.8 688.8 L1131.2 695.8 L1138.8 692.5 L1147.5 697.5 L1153.8 699.5 L1160.0 700.0 L1168.0 708.0 L1176.2 708.0 L1183.8 703.8 L1190.0 698.2 L1197.5 713.0 L1205.0 718.8 L1212.0 698.8 L1219.5 688.8 L1227.0 705.5 L1235.0 710.0 L1242.5 709.5 L1248.8 708.8 L1256.2 695.8 L1263.8 695.8 L1270.5 706.2 L1278.8 712.0 L1286.2 710.0 L1293.8 703.8 L1300.0 700.8 L1306.2 701.8 L1315.0 712.5 L1323.8 711.8 L1329.5 688.0 L1338.0 688.0 L1344.5 700.0 L1352.5 698.8 L1360.0 699.2 L1367.0 701.2 L1373.8 693.0 L1381.2 693.8 L1388.8 710.0 L1395.5 715.8 L1403.8 705.8 L1411.2 705.8 L1418.8 706.2 L1426.2 709.5 L1433.8 705.0 L1440.0 703.0 L1447.5 713.8 L1455.0 718.0 L1462.5 710.0 L1470.0 694.5 L1477.5 691.2 L1485.0 689.2 L1492.5 686.8 L1499.5 702.0 L1507.0 706.8 L1514.5 692.5 L1521.2 691.2 L1528.8 688.8 L1536.2 689.2 L1545.0 700.0 L1552.5 700.0 L1559.5 687.5 L1567.0 692.5 L1573.8 704.5 L1581.2 702.5 L1588.8 706.2 L1595.5 707.5 L1602.5 700.0 L1611.2 706.2 L1618.8 703.8 L1625.5 696.8 L1632.5 709.5 L1640.0 718.0 L1647.5 711.2 L1655.0 707.5 L1662.5 702.0 L1670.0 695.0 L1677.5 688.2 L1684.5 690.0 L1691.2 715.0 L1698.8 717.5 L1706.2 708.8 L1713.8 712.5 L1721.2 703.8 L1728.8 696.2 L1736.2 693.8 L1743.8 705.0 L1750.5 696.2 L1758.0 675.8 L1766.1 687.6 L1772.9 695.9 L1779.7 680.0 L1787.3 673.9 L1795.6 678.5 L1808.5 668.6 L1816.8 670.2 L1831.2 655.8 L1838.8 668.6 L1847.1 674.7 L1854.7 666.4 L1860.8 651.2 L1868.3 637.6 L1877.4 638.3 L1890.3 643.3 L1897.9 629.2 L1905.5 616.4 L1913.0 616.4 L1920.6 613.6 L1928.2 614.5 L1935.0 600.5 L1941.8 595.2 L1950.2 602.4 L1958.5 599.7 L1964.5 577.0 L1972.1 558.0 L1978.9 573.6 L1986.5 564.8 L1993.3 536.8 L2001.7 531.5 L2008.5 495.2 L2011.2 486.0 L2016.0 455.6 L2023.2 445.2 L2030.9 432.4 L2036.0 404.4 L2039.2 388.4 L2046.4 366.0 L2053.6 332.4 L2060.0 300.4 L2068.0 270.0 L2076.0 254.0 L2084.0 254.8 L2091.2 259.1 L2098.1 270.8 L2104.8 291.6 L2112.0 311.6 L2116.0 342.0 L2120.0 374.0 L2122.4 406.0 L2124.0 438.0 L2126.4 470.0 L2128.0 494.0 L2129.2 510.3 L2132.3 540.6 L2135.3 570.9 L2142.1 601.2 L2149.7 619.4 L2157.3 624.7 L2164.1 623.2 L2171.7 615.6 L2179.2 613.3 L2186.8 612.6 L2193.6 627.0 L2201.2 623.9 L2209.5 617.9 L2216.4 627.7 L2223.9 633.0 L2231.5 638.3 L2239.1 657.3 L2245.2 674.7 L2252.7 665.6 L2260.3 668.6 L2267.1 693.6 L2274.7 702.7 L2283.8 722.4"/>
</g></g>
<path class="k" d="M1030.4 1663.3 A339.6 133.7 0 1 1 1709.6 1663.3 A339.6 133.7 0 1 1 1030.4 1663.3" pathLength="1559.45" fill="none" stroke="#ff0080" stroke-width="6.4" stroke-dasharray="8.2 12.39" stroke-dashoffset="-3.75" stroke-linecap="round"/>
<line class="k" x1="1030.9" y1="1651" x2="1030.6" y2="1669" stroke="#ff0080" stroke-width="6.4" stroke-linecap="round"/>
<line class="k" x1="382.4" y1="130.5" x2="558.6" y2="130.5" stroke="#0000ff" stroke-width="11" stroke-linecap="round"/>
<text transform="translate(582.59 156.90) scale(0.8070 0.8290)" font-family='"Liberation Serif", serif' font-weight="bold" font-size="100" fill="#000">BM</text>
<line class="k" x1="382.4" y1="247.5" x2="558.6" y2="247.5" stroke="#ff0080" stroke-width="11" stroke-linecap="round"/>
<text transform="translate(582.59 274.80) scale(0.8070 0.8290)" font-family='"Liberation Serif", serif' font-weight="bold" font-size="100" fill="#000">BM</text>
<text transform="translate(711.40 274.80) scale(0.8272 0.8290)" font-family='"Liberation Serif", serif' font-weight="bold" font-size="100" fill="#000">-Ce</text>
<text transform="translate(835.21 302.00) scale(0.4776 0.4848)" font-family='"Liberation Serif", serif' font-weight="bold" font-size="100" fill="#000">0.1</text>
<line class="k" x1="382.4" y1="385.5" x2="558.6" y2="385.5" stroke="#00ff00" stroke-width="11" stroke-linecap="round"/>
<text transform="translate(582.59 411.40) scale(0.8070 0.8290)" font-family='"Liberation Serif", serif' font-weight="bold" font-size="100" fill="#000">BM</text>
<text transform="translate(711.40 411.40) scale(0.8272 0.8290)" font-family='"Liberation Serif", serif' font-weight="bold" font-size="100" fill="#000">-Ce</text>
<text transform="translate(835.24 441.60) scale(0.4705 0.4848)" font-family='"Liberation Serif", serif' font-weight="bold" font-size="100" fill="#000">0.3</text>
<line class="k" x1="382.4" y1="523.5" x2="558.6" y2="523.5" stroke="#f4cd1c" stroke-width="11" stroke-linecap="round"/>
<text transform="translate(582.59 550.60) scale(0.8070 0.8290)" font-family='"Liberation Serif", serif' font-weight="bold" font-size="100" fill="#000">BM</text>
<text transform="translate(711.40 550.60) scale(0.8272 0.8290)" font-family='"Liberation Serif", serif' font-weight="bold" font-size="100" fill="#000">-Ce</text>
<text transform="translate(835.24 580.00) scale(0.4685 0.4848)" font-family='"Liberation Serif", serif' font-weight="bold" font-size="100" fill="#000">0.6</text>
<text transform="translate(194.2 2000.9) scale(0.788 0.817)" font-family='"Liberation Sans", sans-serif' font-size="100" text-anchor="middle" fill="#000">100</text>
<text transform="translate(454.2 2000.9) scale(0.788 0.817)" font-family='"Liberation Sans", sans-serif' font-size="100" text-anchor="middle" fill="#000">200</text>
<text transform="translate(714.3 2000.9) scale(0.788 0.817)" font-family='"Liberation Sans", sans-serif' font-size="100" text-anchor="middle" fill="#000">300</text>
<text transform="translate(974.4 2000.9) scale(0.788 0.817)" font-family='"Liberation Sans", sans-serif' font-size="100" text-anchor="middle" fill="#000">400</text>
<text transform="translate(1234.4 2000.9) scale(0.788 0.817)" font-family='"Liberation Sans", sans-serif' font-size="100" text-anchor="middle" fill="#000">500</text>
<text transform="translate(1494.5 2000.9) scale(0.788 0.817)" font-family='"Liberation Sans", sans-serif' font-size="100" text-anchor="middle" fill="#000">600</text>
<text transform="translate(1754.5 2000.9) scale(0.788 0.817)" font-family='"Liberation Sans", sans-serif' font-size="100" text-anchor="middle" fill="#000">700</text>
<text transform="translate(2014.6 2000.9) scale(0.788 0.817)" font-family='"Liberation Sans", sans-serif' font-size="100" text-anchor="middle" fill="#000">800</text>
<text transform="translate(2274.6 2000.9) scale(0.788 0.817)" font-family='"Liberation Sans", sans-serif' font-size="100" text-anchor="middle" fill="#000">900</text>
<text transform="translate(934.47 2122.00) scale(1.0231 1.0229)" font-family='"Liberation Serif", serif' font-weight="bold" font-size="100" fill="#000">Temperature</text>
<text transform="translate(1530.74 2113.03) scale(0.9471 0.8926)" font-family='"Liberation Serif", serif' font-weight="bold" font-size="100" fill="#000">(°C)</text>
<g transform="translate(106 1392) rotate(-90)">
<text transform="translate(-1.32 0.00) scale(1.0570 1.0216)" font-family='"Liberation Serif", serif' font-weight="bold" font-size="100" fill="#000">μmol</text>
<text transform="translate(252.67 0.45) scale(1.0662 1.0483)" font-family='"Liberation Serif", serif' font-weight="bold" font-size="100" fill="#000">O</text>
<text transform="translate(334.44 33.00) scale(0.6024 0.5887)" font-family='"Liberation Serif", serif' font-weight="bold" font-size="100" fill="#000">2</text>
<text transform="translate(378.97 0.16) scale(0.9625 0.9600)" font-family='"Liberation Serif", serif' font-weight="bold" font-size="100" fill="#000">.</text>
<text transform="translate(403.15 3.73) scale(1.0378 0.9898)" font-family='"Liberation Serif", serif' font-weight="bold" font-size="100" fill="#000">g</text>
<text transform="translate(457.02 33.60) scale(0.5657 0.6655)" font-family='"Liberation Serif", serif' font-weight="bold" font-size="100" fill="#000">cat</text>
<text transform="translate(529.78 -48.00) scale(0.5926 0.5909)" font-family='"Liberation Serif", serif' font-weight="bold" font-size="100" fill="#000">-1</text>
<text transform="translate(579.47 0.16) scale(0.9625 0.9600)" font-family='"Liberation Serif", serif' font-weight="bold" font-size="100" fill="#000">.</text>
<text transform="translate(603.78 0.99) scale(1.0746 1.0063)" font-family='"Liberation Serif", serif' font-weight="bold" font-size="100" fill="#000">s</text>
<text transform="translate(644.73 -48.00) scale(0.6061 0.5909)" font-family='"Liberation Serif", serif' font-weight="bold" font-size="100" fill="#000">-1</text>
</g>
<text transform="translate(1040.50 1468.05) scale(0.8255 0.9028)" font-family='"DejaVu Serif", "Liberation Serif", serif' font-weight="bold" font-size="100" fill="#000">α</text>
<text transform="translate(1107.44 1509.00) scale(0.5793 1.4795)" font-family='"DejaVu Serif", "Liberation Serif", serif' font-weight="bold" font-size="100" fill="#000">′</text>
<text transform="translate(1127.34 1471.57) scale(0.7615 0.9647)" font-family='"Liberation Serif", serif' font-weight="bold" font-size="100" fill="#000">-</text>
<text transform="translate(1151.01 1466.87) scale(0.7588 0.7346)" font-family='"Liberation Serif", serif' font-weight="bold" font-size="100" fill="#000">O</text>
<text transform="translate(1209.05 1500.00) scale(0.5060 0.4619)" font-family='"Liberation Serif", serif' font-weight="bold" font-size="100" fill="#000">2</text>
<text transform="translate(1234.94 1464.81) scale(0.6353 0.7052)" font-family='"Liberation Serif", serif' font-weight="bold" font-size="100" fill="#000">(</text>
<text transform="translate(1255.98 1466.50) scale(0.7051 0.6993)" font-family='"Liberation Serif", serif' font-weight="bold" font-size="100" fill="#000">58</text>
<text transform="translate(1346.08 1466.40) scale(0.7360 0.7281)" font-family='"Liberation Serif", serif' font-weight="bold" font-size="100" fill="#000">μmol.g</text>
<text transform="translate(1560.12 1419.00) scale(0.5010 0.4848)" font-family='"Liberation Serif", serif' font-weight="bold" font-size="100" fill="#000">-1</text>
<text transform="translate(1601.96 1464.81) scale(0.6291 0.7052)" font-family='"Liberation Serif", serif' font-weight="bold" font-size="100" fill="#000">)</text>
</svg>
</body></html>
